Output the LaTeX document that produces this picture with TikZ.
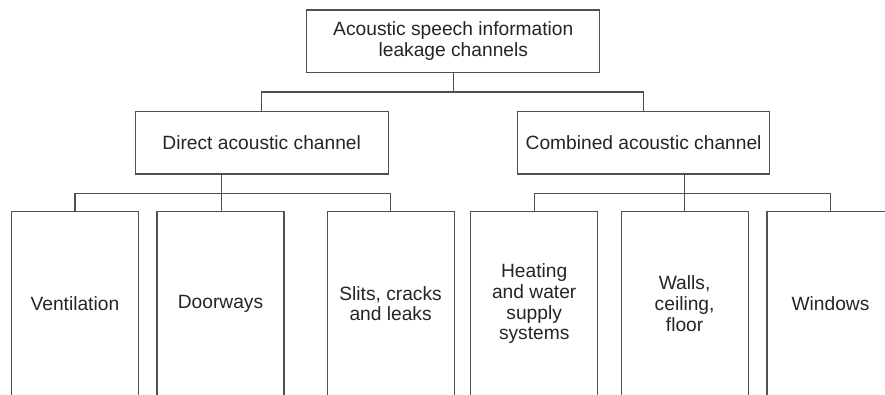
\documentclass[tikz,border=0pt]{standalone}
\usepackage{fontspec}
\setmainfont{Liberation Sans}
\definecolor{linegray}{HTML}{505050}
\definecolor{textgray}{HTML}{252525}
\tikzset{
  box/.style={draw=linegray, line width=1.2pt, fill=white, inner sep=0pt, align=center,
    text=textgray, font=\fontsize{19.2}{20.7}\selectfont},
  leafbox/.style={box, minimum width=127pt, minimum height=184pt},
  conn/.style={draw=linegray, line width=1.2pt}
}
\begin{document}
\begin{tikzpicture}[x=1pt,y=-1pt]
\useasboundingbox (0,0) rectangle (885,394);
\clip (0,0) rectangle (885,394);
\fill[white] (0,0) rectangle (885,394);
% nodes
\node[box, minimum width=293pt, minimum height=62.5pt] (top) at (453.3,41.3) {Acoustic speech information\\leakage channels};
\node[box, minimum width=253pt, minimum height=62.3pt] (direct) at (261.7,142.9) {Direct acoustic channel};
\node[box, minimum width=252.5pt, minimum height=62.3pt] (combined) at (643.6,142.9) {Combined acoustic channel};
\node[leafbox] (vent) at (74.9,303.7) {Ventilation};
\node[leafbox] (door) at (220.5,303.7) {Doorways};
\node[leafbox] (slits) at (390.6,303.7) {Slits, cracks\\and leaks};
\node[leafbox] (heat) at (534.2,303.7) {Heating\\and water\\supply\\systems};
\node[leafbox] (walls) at (684.6,303.7) {Walls,\\ceiling,\\floor};
\node[leafbox] (windows) at (830.5,303.7) {Windows};
% junction coordinates
\coordinate (tj) at (453.3,92);
\coordinate (dj) at (221.7,193.3);
\coordinate (cj) at (684.4,193.3);
% connectors
\draw[conn] (top.south) -- (tj);
\draw[conn] (direct.north) |- (tj) -| (combined.north);
\draw[conn] (direct.south -| dj) -- (dj) -- (dj |- door.north);
\draw[conn] (vent.north) |- (dj) -| (slits.north);
\draw[conn] (combined.south -| cj) -- (cj) -- (cj |- walls.north);
\draw[conn] (heat.north) |- (cj) -| (windows.north);
\end{tikzpicture}
\end{document}
